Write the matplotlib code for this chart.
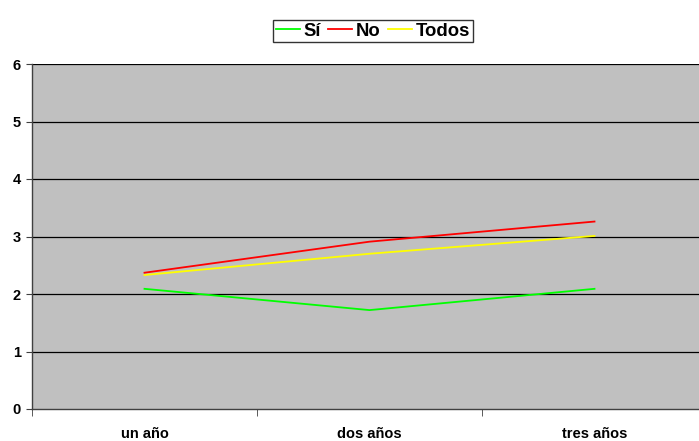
import matplotlib
matplotlib.use("Agg")
import matplotlib.pyplot as plt
import numpy as np

categories = ["un año", "dos años", "tres años"]
si = [2.09, 1.72, 2.09]
no = [2.37, 2.91, 3.26]
todos = [2.33, 2.70, 3.01]

plt.rcParams['font.family'] = ['Liberation Sans', 'DejaVu Sans']

W, H = 699, 441
fig = plt.figure(figsize=(W/100, H/100), dpi=100)
left, right, top, bottom = 32, 707, 64, 409
ax = fig.add_axes([left/W, (H-bottom)/H, (right-left)/W, (bottom-top)/H])
ax.set_facecolor('#c0c0c0')

x = np.arange(len(categories))
ax.plot(x, si, color='#00ff00', lw=1.3, label='Sí')
ax.plot(x, no, color='#ff0000', lw=1.3, label='No')
ax.plot(x, todos, color='#ffff00', lw=1.3, label='Todos')

ax.set_xlim(-0.5, len(categories)-0.5)
ax.set_ylim(0, 6)
ax.set_yticks(range(0, 7))
ax.set_yticklabels([str(i) for i in range(0, 7)], fontweight='bold', fontsize=10.5)
for yv in range(1, 7):
    ax.axhline(yv, color='black', lw=0.9, zorder=1)

ax.set_xticks(x)
ax.set_xticklabels(categories, fontweight='bold', fontsize=10.5)
ax.tick_params(axis='x', which='major', length=0, pad=13)
ax.set_xticks(np.arange(-0.5, len(categories)), minor=True)
ax.tick_params(axis='x', which='minor', length=5, color='#404040', direction='out')
ax.tick_params(axis='y', length=4, color='#404040', direction='out', pad=4)

for s in ['top', 'right']:
    ax.spines[s].set_visible(False)
for s in ['left', 'bottom']:
    ax.spines[s].set_color('#404040')
    ax.spines[s].set_linewidth(1.0)

leg = fig.legend(loc='center', bbox_to_anchor=(373/W, 1-31/H), ncol=3,
                 frameon=True, fancybox=False, edgecolor='black',
                 prop={'weight': 'bold', 'size': 13.3},
                 handlelength=1.3, handletextpad=0.2, columnspacing=0.4,
                 borderpad=0.15, borderaxespad=0)
leg.get_frame().set_linewidth(1.0)

fig.savefig('out.png', dpi=100)
